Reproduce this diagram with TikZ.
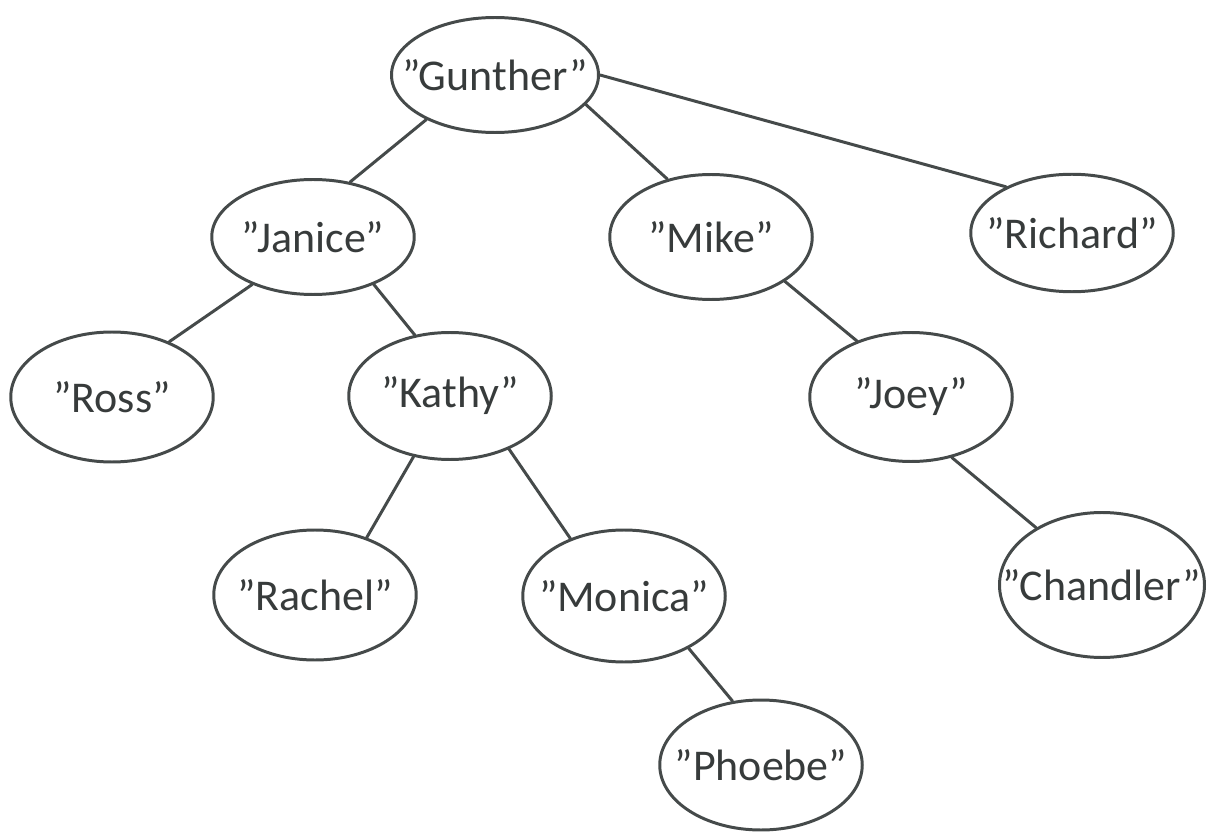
\documentclass[tikz,border=0pt]{standalone}
\usepackage{fontspec}
\setmainfont{Carlito}
\usetikzlibrary{shapes.geometric}
\definecolor{pen}{HTML}{454A4A}
\tikzset{nm/.append style={ellipse, draw=pen, line width=1.7pt, inner sep=0pt, minimum width=4.05cm, minimum height=2.4cm, text=pen!80!black, font=\fontsize{25}{28}\selectfont,
  execute at begin node={\hbox to 0pt\bgroup\hss}, execute at end node={\hss\egroup}}}
\tikzset{ln/.append style={draw=pen, line width=1.7pt, line cap=round}}

\begin{document}
\begin{tikzpicture}
                \useasboundingbox (0,0) rectangle (24.24,-16.66);
                % \SetUpVertex
                \node[nm, minimum width=4.14cm, minimum height=2.3cm] (gunther) at (9.9,-1.5) {"Gunther"};
                \node[nm, minimum height=2.3cm] (janice) at (6.26,-4.74) {"Janice"};
                \node[nm, minimum height=2.5cm] (mike) at (14.22,-4.74) {"Mike"};
                \node[nm, minimum height=2.35cm] (richard) at (21.44,-4.66) {"Richard"};
                \node[nm, minimum height=2.6cm] (ross) at (2.24,-7.94) {"Ross"};
                \node[nm, minimum height=2.54cm] (kathy) at (9.0,-7.92) {"Kathy"};
                \node[nm, minimum height=2.58cm] (joey) at (18.22,-7.94) {"Joey"};
                \node[nm, minimum height=2.6cm] (rachel) at (6.3,-11.9) {"Rachel"};
                \node[nm, minimum height=2.64cm] (monica) at (12.48,-11.92) {"Monica"};
                \node[nm, minimum width=4.1cm, minimum height=2.9cm] (chandler) at (22.04,-11.7) {"Chandler"};
                \node[nm, minimum height=2.6cm] (phoebe) at (15.22,-15.3) {"Phoebe"};
                \path (gunther.213) edge[ln] (janice.56);
                \path (gunther.342) edge[ln] (mike.127);
                \path (gunther.0) edge[ln] (richard.145);
                \path (janice.218) edge[ln] (ross.44);
                \path (janice.322) edge[ln] (kathy.120);
                \path (kathy.239) edge[ln] (rachel.48);
                \path (kathy.318) edge[ln] (monica.133);
                \path (mike.329) edge[ln] (joey.134);
                \path (joey.304) edge[ln] (chandler.139);
                \path (monica.321) edge[ln] (phoebe.114);
\end{tikzpicture}
\end{document}
